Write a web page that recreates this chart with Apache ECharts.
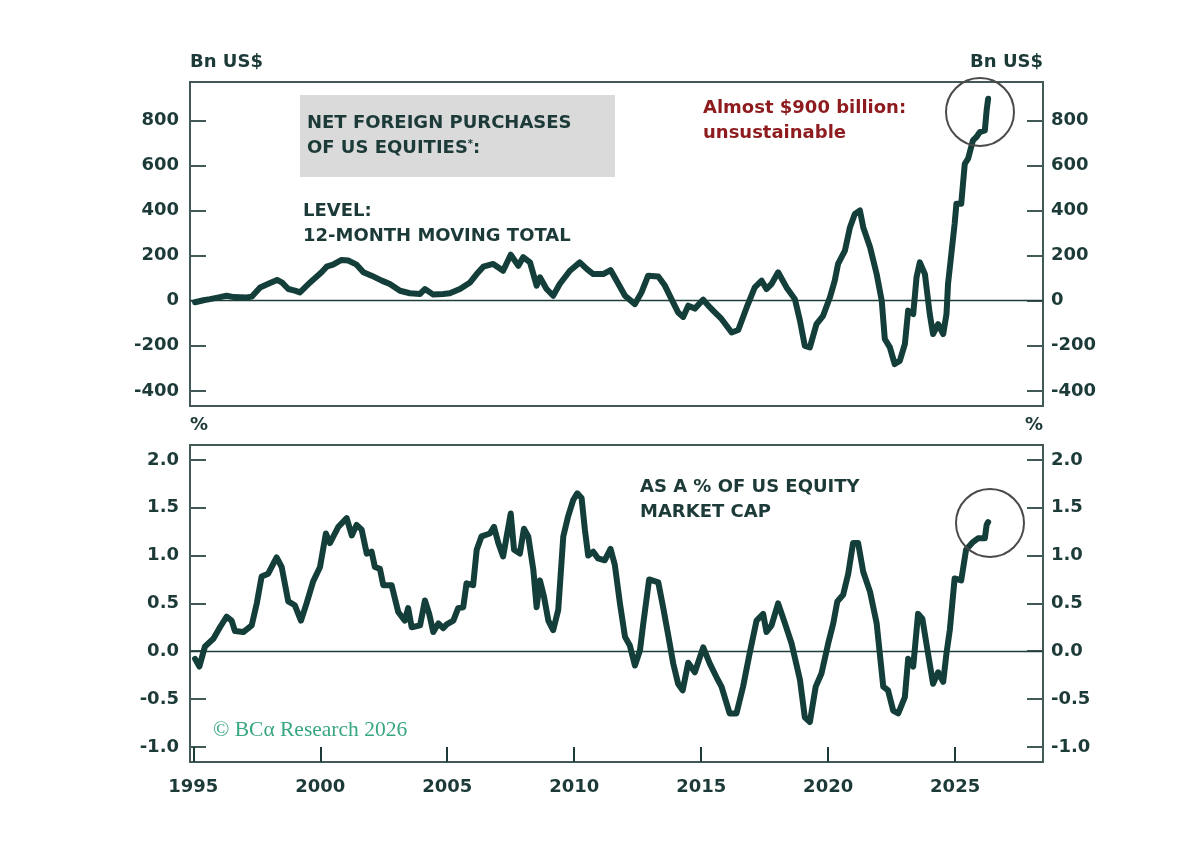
<!DOCTYPE html>
<html>
<head>
<meta charset="utf-8">
<script src="https://cdn.jsdelivr.net/npm/echarts@6/dist/echarts.min.js"></script>
<style>
html,body{margin:0;padding:0;background:#ffffff;}
#chart{width:1200px;height:859px;}
</style>
</head>
<body>
<div id="chart"></div>
<script>
// ---- Data ----
const levelYears = [1995.07,1995.4,1995.66,1996.0,1996.31,1996.6,1996.84,1997.1,1997.3,1997.63,1998.0,1998.3,1998.5,1998.74,1999.0,1999.2,1999.6,2000.05,2000.25,2000.5,2000.84,2001.1,2001.43,2001.7,2002.02,2002.42,2002.74,2003.14,2003.53,2003.93,2004.12,2004.45,2004.84,2005.1,2005.5,2005.9,2006.16,2006.42,2006.81,2007.2,2007.5,2007.8,2007.99,2008.26,2008.52,2008.65,2008.91,2009.17,2009.43,2009.83,2010.22,2010.49,2010.75,2011.14,2011.43,2011.67,2012.0,2012.39,2012.65,2012.91,2013.31,2013.57,2013.83,2014.09,2014.29,2014.49,2014.75,2015.08,2015.28,2015.47,2015.8,2016.2,2016.46,2016.79,2017.11,2017.38,2017.57,2017.77,2018.03,2018.36,2018.69,2018.89,2019.08,2019.28,2019.54,2019.8,2020.07,2020.26,2020.39,2020.66,2020.86,2021.05,2021.25,2021.38,2021.65,2021.91,2022.11,2022.23,2022.43,2022.62,2022.82,2023.02,2023.15,2023.35,2023.48,2023.61,2023.81,2024.0,2024.13,2024.33,2024.53,2024.66,2024.72,2024.85,2024.98,2025.05,2025.24,2025.38,2025.51,2025.7,2025.84,2025.97,2026.17,2026.24,2026.3];
const levelValues = [-7,2,7,15,22,16,15,14,18,59,77,92,80,52,45,37,81,126,151,160,181,178,160,126,111,89,74,44,33,30,52,27,30,33,52,81,118,151,163,133,204,155,193,170,67,104,52,22,74,133,170,141,118,118,136,89,22,-15,37,111,107,67,7,-52,-72,-22,-35,5,-22,-44,-81,-141,-130,-30,59,89,52,74,126,59,7,-89,-200,-207,-104,-67,15,89,163,222,326,385,400,326,237,118,0,-170,-207,-281,-267,-193,-44,-59,104,170,118,-59,-148,-104,-148,-59,74,207,340,430,430,607,630,711,726,748,755,844,896];

const pctYears = [1995.07,1995.24,1995.46,1995.79,1996.05,1996.31,1996.51,1996.64,1996.97,1997.3,1997.5,1997.69,1997.95,1998.28,1998.48,1998.74,1999.0,1999.24,1999.46,1999.72,1999.99,2000.22,2000.38,2000.71,2001.04,2001.24,2001.43,2001.63,2001.83,2002.02,2002.15,2002.35,2002.48,2002.81,2003.07,2003.33,2003.46,2003.6,2003.93,2004.12,2004.29,2004.45,2004.65,2004.84,2004.98,2005.24,2005.43,2005.63,2005.76,2006.02,2006.16,2006.35,2006.68,2006.84,2007.01,2007.2,2007.34,2007.5,2007.63,2007.86,2008.02,2008.19,2008.39,2008.52,2008.65,2008.81,2008.98,2009.17,2009.37,2009.57,2009.76,2009.96,2010.12,2010.29,2010.42,2010.55,2010.75,2010.94,2011.2,2011.43,2011.6,2011.8,2012.0,2012.19,2012.39,2012.59,2012.72,2012.95,2013.31,2013.5,2013.7,2013.9,2014.09,2014.27,2014.49,2014.75,2015.08,2015.34,2015.6,2015.8,2016.12,2016.39,2016.65,2016.91,2017.18,2017.44,2017.57,2017.77,2018.03,2018.3,2018.56,2018.89,2019.08,2019.28,2019.51,2019.74,2020.0,2020.2,2020.36,2020.59,2020.79,2020.98,2021.18,2021.38,2021.65,2021.91,2022.17,2022.36,2022.56,2022.76,2023.02,2023.15,2023.35,2023.54,2023.71,2023.93,2024.13,2024.33,2024.53,2024.66,2024.79,2024.98,2025.24,2025.43,2025.7,2025.9,2026.17,2026.24,2026.3];
const pctValues = [-0.08,-0.16,0.05,0.13,0.25,0.36,0.32,0.21,0.20,0.27,0.5,0.78,0.81,0.98,0.88,0.52,0.48,0.32,0.5,0.73,0.88,1.23,1.13,1.3,1.39,1.21,1.32,1.27,1.02,1.04,0.88,0.86,0.69,0.69,0.41,0.32,0.45,0.25,0.27,0.53,0.39,0.2,0.29,0.24,0.28,0.32,0.45,0.46,0.71,0.69,1.06,1.2,1.23,1.3,1.13,0.99,1.2,1.44,1.06,1.02,1.28,1.2,0.85,0.46,0.74,0.57,0.32,0.22,0.43,1.2,1.41,1.58,1.65,1.6,1.27,1.0,1.04,0.97,0.95,1.07,0.9,0.5,0.15,0.06,-0.15,0.01,0.29,0.75,0.72,0.46,0.17,-0.13,-0.34,-0.41,-0.12,-0.22,0.04,-0.13,-0.27,-0.37,-0.65,-0.65,-0.37,-0.02,0.32,0.39,0.2,0.27,0.5,0.29,0.08,-0.3,-0.69,-0.74,-0.37,-0.23,0.08,0.29,0.52,0.59,0.81,1.13,1.13,0.83,0.62,0.29,-0.37,-0.41,-0.62,-0.65,-0.48,-0.08,-0.16,0.39,0.34,-0.02,-0.34,-0.22,-0.32,-0.02,0.22,0.76,0.74,1.06,1.14,1.18,1.18,1.32,1.35];

const yearTicks = [1995,2000,2005,2010,2015,2020,2025];
const levelTicks = [-400,-200,0,200,400,600,800];
const pctTicks = [-1.0,-0.5,0.0,0.5,1.0,1.5,2.0];

// ---- Styling ----
const FONT = 'DejaVu Sans';
const TXT = '#1c3a38';
const LINE = '#143e3a';
const FRAME = '#425a57';

const chart = echarts.init(document.getElementById('chart'), null, {renderer: 'canvas'});

const levelData = levelYears.map((y, i) => [y, levelValues[i]]);
const pctData = pctYears.map((y, i) => [y, pctValues[i]]);

const X_MIN = 1994.87, X_MAX = 2028.46;

function yAxisDef(grid, pos, min, max, ticks, name, fmt) {
  return {
    type: 'value', gridIndex: grid, position: pos, min: min, max: max,
    name: name, nameLocation: 'end', nameGap: 20,
    nameTextStyle: {fontFamily: FONT, fontWeight: 'bold', fontSize: 18, color: TXT,
      align: pos === 'left' ? 'left' : 'right', verticalAlign: 'middle'},
    axisLine: {show: true, lineStyle: {color: FRAME, width: 2}},
    axisTick: {show: true, inside: true, length: 16, customValues: ticks, lineStyle: {color: FRAME, width: 2}},
    axisLabel: {show: true, customValues: ticks, margin: pos === 'left' ? 11 : 8,
      fontFamily: FONT, fontWeight: 'bold', fontSize: 18, color: TXT, formatter: fmt},
    splitLine: {show: false}
  };
}

const option = {
  animation: false,
  backgroundColor: '#ffffff',
  grid: [
    {left: 190, right: 157, top: 82, height: 324, show: true, borderColor: FRAME, borderWidth: 2, backgroundColor: 'transparent'},
    {left: 190, right: 157, top: 445, height: 317, show: true, borderColor: FRAME, borderWidth: 2, backgroundColor: 'transparent'}
  ],
  xAxis: [
    {type: 'value', gridIndex: 0, min: X_MIN, max: X_MAX,
      axisLine: {show: false}, axisTick: {show: false}, axisLabel: {show: false}, splitLine: {show: false}},
    {type: 'value', gridIndex: 1, min: X_MIN, max: X_MAX,
      axisLine: {show: true, onZero: false, lineStyle: {color: FRAME, width: 2}},
      axisTick: {show: true, inside: true, length: 15, customValues: yearTicks, lineStyle: {color: '#1c3a38', width: 2}},
      axisLabel: {show: true, customValues: yearTicks, margin: 16, fontFamily: FONT, fontWeight: 'bold', fontSize: 18, color: TXT,
        formatter: v => String(Math.round(v))},
      splitLine: {show: false}}
  ],
  yAxis: [
    yAxisDef(0, 'left', -467, 970, levelTicks, 'Bn US$', v => String(Math.round(v))),
    yAxisDef(0, 'right', -467, 970, levelTicks, 'Bn US$', v => String(Math.round(v))),
    yAxisDef(1, 'left', -1.158, 2.155, pctTicks, '%', v => v.toFixed(1)),
    yAxisDef(1, 'right', -1.158, 2.155, pctTicks, '%', v => v.toFixed(1))
  ],
  series: [
    {type: 'line', xAxisIndex: 0, yAxisIndex: 0, data: levelData, showSymbol: false, symbol: 'none', z: 5,
      lineStyle: {color: LINE, width: 6, cap: 'round', join: 'round'},
      markLine: {silent: true, symbol: 'none', label: {show: false}, z: 3,
        lineStyle: {color: '#1f3d3a', width: 1.3, type: 'solid'}, data: [{yAxis: 0}]}},
    {type: 'line', xAxisIndex: 1, yAxisIndex: 2, data: pctData, showSymbol: false, symbol: 'none', z: 5,
      lineStyle: {color: LINE, width: 6, cap: 'round', join: 'round'},
      markLine: {silent: true, symbol: 'none', label: {show: false}, z: 3,
        lineStyle: {color: '#1f3d3a', width: 1.3, type: 'solid'}, data: [{yAxis: 0}]}}
  ],
  graphic: [
    {type: 'rect', left: 300, top: 95, z: 1, shape: {width: 315, height: 82}, style: {fill: '#dadada'}},
    {type: 'text', x: 307, y: 123, z: 10, style: {text: 'NET FOREIGN PURCHASES', fontFamily: FONT, fontWeight: 'bold', fontSize: 18, fill: TXT, verticalAlign: 'middle'}},
    {type: 'text', x: 307, y: 148, z: 10, style: {text: 'OF US EQUITIES{s|*}:', fontFamily: FONT, fontWeight: 'bold', fontSize: 18, fill: TXT, verticalAlign: 'middle',
      rich: {s: {fontFamily: FONT, fontWeight: 'bold', fontSize: 10, fill: TXT, verticalAlign: 'top', padding: [0,0,8,0]}}}},
    {type: 'text', x: 303, y: 211, z: 10, style: {text: 'LEVEL:', fontFamily: FONT, fontWeight: 'bold', fontSize: 18, fill: TXT, verticalAlign: 'middle'}},
    {type: 'text', x: 303, y: 236, z: 10, style: {text: '12-MONTH MOVING TOTAL', fontFamily: FONT, fontWeight: 'bold', fontSize: 18, fill: TXT, verticalAlign: 'middle'}},
    {type: 'text', x: 703, y: 108, z: 10, style: {text: 'Almost $900 billion:', fontFamily: FONT, fontWeight: 'bold', fontSize: 18, fill: '#8e1b1e', verticalAlign: 'middle'}},
    {type: 'text', x: 703, y: 133, z: 10, style: {text: 'unsustainable', fontFamily: FONT, fontWeight: 'bold', fontSize: 18, fill: '#8e1b1e', verticalAlign: 'middle'}},
    {type: 'circle', z: 20, shape: {cx: 980, cy: 112, r: 34}, style: {fill: 'none', stroke: '#4a4a4a', lineWidth: 2}},
    {type: 'text', x: 640, y: 487, z: 10, style: {text: 'AS A % OF US EQUITY', fontFamily: FONT, fontWeight: 'bold', fontSize: 18, fill: TXT, verticalAlign: 'middle'}},
    {type: 'text', x: 640, y: 512, z: 10, style: {text: 'MARKET CAP', fontFamily: FONT, fontWeight: 'bold', fontSize: 18, fill: TXT, verticalAlign: 'middle'}},
    {type: 'circle', z: 20, shape: {cx: 990, cy: 523, r: 34}, style: {fill: 'none', stroke: '#4a4a4a', lineWidth: 2}},
    {type: 'text', x: 213, y: 730, z: 10, style: {text: '© BCα Research 2026', fontFamily: 'Liberation Serif', fontSize: 21.5, fill: '#36a77f', verticalAlign: 'middle'}}
  ]
};

chart.setOption(option);
</script>
</body>
</html>
